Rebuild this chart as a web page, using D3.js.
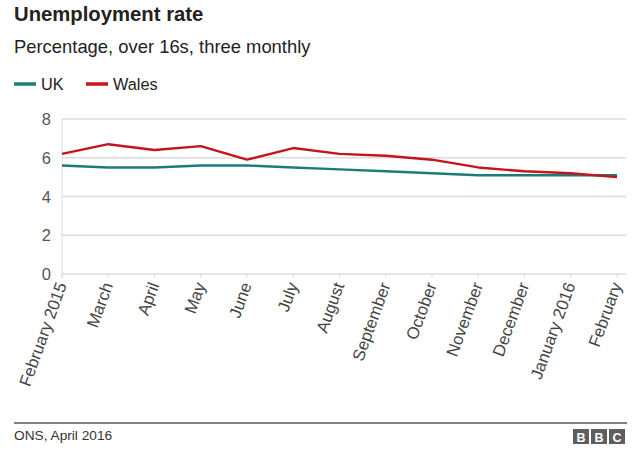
<!DOCTYPE html>
<html>
<head>
<meta charset="utf-8">
<script src="https://cdn.jsdelivr.net/npm/d3@7/dist/d3.min.js"></script>
<style>
  html, body { margin: 0; padding: 0; background: #fff; }
  svg { display: block; font-family: Arial, "Liberation Sans", Helvetica, sans-serif; }
</style>
</head>
<body>
<svg id="chart" width="640" height="454"></svg>
<script>
const months = ["February 2015", "March", "April", "May", "June", "July", "August",
  "September", "October", "November", "December", "January 2016", "February"];
const ukValues = [5.6, 5.5, 5.5, 5.6, 5.6, 5.5, 5.4, 5.3, 5.2, 5.1, 5.1, 5.1, 5.1];
const walesValues = [6.2, 6.7, 6.4, 6.6, 5.9, 6.5, 6.2, 6.1, 5.9, 5.5, 5.3, 5.2, 5.0];
const yTicks = [0, 2, 4, 6, 8];
const seriesNames = ["UK", "Wales"];
const seriesColors = ["#1d7c78", "#c2151c"];

const svg = d3.select("#chart");
const plotLeft = 62, plotRight = 617, plotTop = 119, plotBottom = 274;

const x = d3.scalePoint().domain(months).range([plotLeft, plotRight]);
const y = d3.scaleLinear().domain([0, 8]).range([plotBottom, plotTop]);

// Title & subtitle
svg.append("text").attr("x", 14).attr("y", 21)
  .attr("font-size", 20.3).attr("font-weight", "bold").attr("fill", "#222")
  .text("Unemployment rate");
svg.append("text").attr("x", 14).attr("y", 53)
  .attr("font-size", 18.4).attr("fill", "#222")
  .text("Percentage, over 16s, three monthly");

// Legend
const legendX = [14, 86];
seriesNames.forEach((name, i) => {
  svg.append("line").attr("x1", legendX[i]).attr("x2", legendX[i] + 22)
    .attr("y1", 84).attr("y2", 84)
    .attr("stroke", seriesColors[i]).attr("stroke-width", 3.5);
  svg.append("text").attr("x", legendX[i] + 27).attr("y", 89.5)
    .attr("font-size", 16.3).attr("fill", "#222").text(name);
});

// Gridlines
svg.append("g").selectAll("line").data(yTicks).join("line")
  .attr("x1", plotLeft).attr("x2", 626)
  .attr("y1", d => y(d)).attr("y2", d => y(d))
  .attr("stroke", "#dcdcdc").attr("stroke-width", 1.3);

// Left axis line
svg.append("line").attr("x1", plotLeft).attr("x2", plotLeft)
  .attr("y1", plotTop).attr("y2", plotBottom + 4)
  .attr("stroke", "#dcdcdc").attr("stroke-width", 1);

// Y tick labels
svg.append("g").selectAll("text").data(yTicks).join("text")
  .attr("x", 51).attr("y", d => y(d) + 6)
  .attr("text-anchor", "end").attr("font-size", 16.5).attr("fill", "#555")
  .text(d => d);

// X ticks
svg.append("g").selectAll("line").data(months).join("line")
  .attr("x1", d => x(d)).attr("x2", d => x(d))
  .attr("y1", plotBottom).attr("y2", plotBottom + 4)
  .attr("stroke", "#dcdcdc").attr("stroke-width", 1);

// X tick labels
svg.append("g").selectAll("text").data(months).join("text")
  .attr("text-anchor", "end")
  .attr("font-size", 16.8).attr("fill", "#444")
  .attr("transform", d => `translate(${x(d) + 5},${plotBottom + 11}) rotate(-70)`)
  .text(d => d);

// Lines
const line = d3.line().x((d, i) => x(months[i])).y(d => y(d));
[ukValues, walesValues].forEach((vals, i) => {
  svg.append("path").datum(vals)
    .attr("fill", "none").attr("stroke", seriesColors[i])
    .attr("stroke-width", 2.4).attr("stroke-linejoin", "round")
    .attr("d", line);
});

// Footer
svg.append("line").attr("x1", 14).attr("x2", 627).attr("y1", 423).attr("y2", 423)
  .attr("stroke", "#000").attr("stroke-width", 1);
svg.append("text").attr("x", 14).attr("y", 440)
  .attr("font-size", 13.7).attr("fill", "#333").text("ONS, April 2016");

// BBC logo
["B", "B", "C"].forEach((ch, i) => {
  const bx = 573 + i * 18;
  svg.append("rect").attr("x", bx).attr("y", 429).attr("width", 16).attr("height", 15)
    .attr("fill", "#5e5e5e");
  svg.append("text").attr("x", bx + 8).attr("y", 441.5).attr("text-anchor", "middle")
    .attr("font-size", 12.5).attr("font-weight", "bold").attr("fill", "#fff").text(ch);
});
</script>
</body>
</html>
